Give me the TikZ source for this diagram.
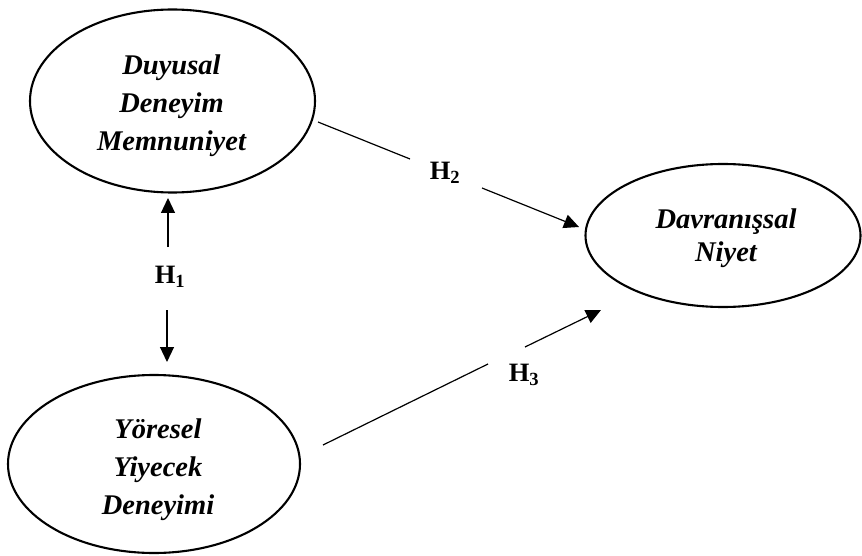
\documentclass[tikz,border=0pt]{standalone}
\usepackage{fontspec}
\setmainfont{Liberation Serif}
\usetikzlibrary{shapes.geometric,arrows.meta}
\tikzset{
  ell/.style={draw=black, line width=2.1pt, ellipse, inner sep=0pt},
  txt/.style={align=center, font=\fontsize{28.5}{38}\selectfont\bfseries\itshape, inner sep=0pt},
  txttwo/.style={align=center, font=\fontsize{28.5}{33}\selectfont\bfseries\itshape, inner sep=0pt},
  hlab/.style={font=\fontsize{26.5}{26.5}\selectfont\bfseries, inner sep=0pt},
  arr/.style={line width=1.2pt, -{Triangle[length=15pt,width=14pt]}},
  seg/.style={line width=1.2pt}
}
\begin{document}
\begin{tikzpicture}[x=1pt,y=-1pt]
\useasboundingbox (0,0) rectangle (862,556);
% ellipses
\node[ell, minimum width=285pt, minimum height=183pt] (e1) at (172.5,101) {};
\node[ell, minimum width=292pt, minimum height=178pt] (e2) at (154,464) {};
\node[ell, minimum width=275pt, minimum height=143pt] (e3) at (723,235.5) {};
% texts
\node[txt] (t1) at (171.5,106) {Duyusal\\Deneyim\\Memnuniyet};
\node[txt] (t2) at (158,470) {Yöresel\\Yiyecek\\Deneyimi};
\node[txttwo] (t3) at (726,238) {Davranışsal\\Niyet};
% labels
\node[hlab] (h1) at (170,277) {H\textsubscript{1}};
\node[hlab] (h2) at (445,173) {H\textsubscript{2}};
\node[hlab] (h3) at (524,375) {H\textsubscript{3}};
% H1 connectors
\coordinate (h1up0) at (168,247);
\coordinate (h1up1) at (168,198);
\coordinate (h1dn0) at (167,310);
\coordinate (h1dn1) at (167,362);
\draw[arr] (h1up0) -- (h1up1);
\draw[arr] (h1dn0) -- (h1dn1);
% H2 connector
\coordinate (h2a) at (318,122);
\coordinate (h2b) at (410,159);
\coordinate (h2c) at (482,188);
\coordinate (h2d) at (579,227);
\draw[seg] (h2a) -- (h2b);
\draw[arr] (h2c) -- (h2d);
% H3 connector
\coordinate (h3a) at (323,445);
\coordinate (h3b) at (488,364);
\coordinate (h3c) at (525,347);
\coordinate (h3d) at (601,310);
\draw[seg] (h3a) -- (h3b);
\draw[arr] (h3c) -- (h3d);
\end{tikzpicture}
\end{document}
